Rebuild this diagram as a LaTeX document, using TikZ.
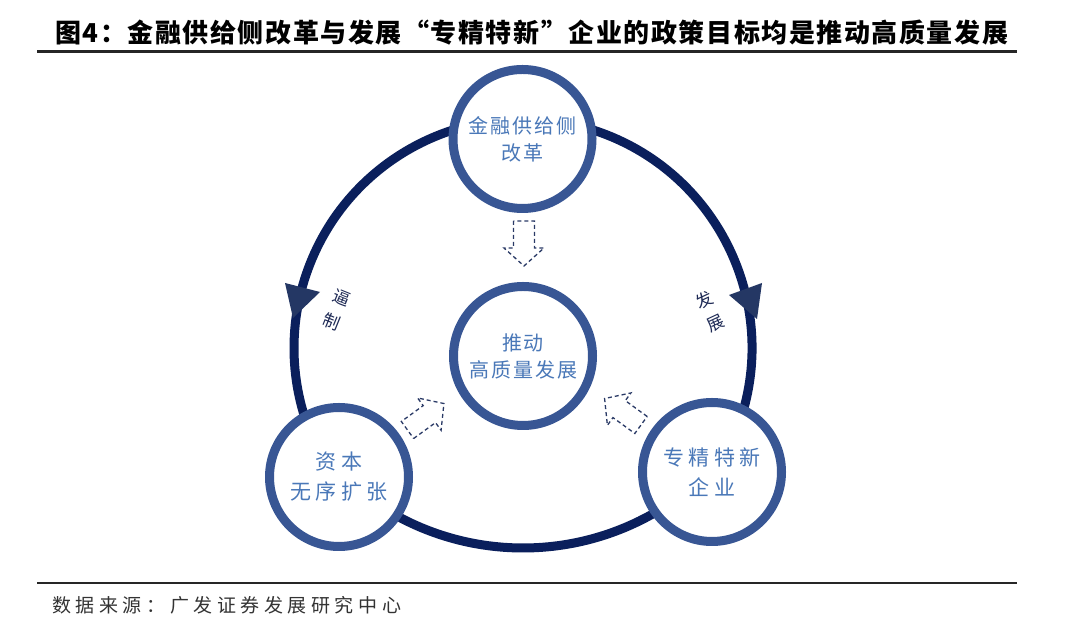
\documentclass[tikz,border=0pt]{standalone}
\usepackage{fontspec}
\setmainfont{Noto Sans CJK SC}
\definecolor{ringcol}{HTML}{0A1F5C}
\definecolor{circcol}{HTML}{385694}
\definecolor{txtcol}{HTML}{4A78B8}
\definecolor{headcol}{HTML}{243764}
\definecolor{lblcol}{HTML}{1E2A55}
\definecolor{dashcol}{HTML}{2A3A66}
\tikzset{
  bubble/.style={circle, draw=circcol, line width=9pt, fill=white, minimum size=139pt,
    inner sep=0pt, text=txtcol, align=center},
  smalltxt/.style={font=\fontsize{20}{27}\selectfont\addfontfeature{LetterSpace=10}},
  widetxt/.style={font=\fontsize{21}{30}\selectfont\addfontfeature{LetterSpace=20}},
  ringline/.style={draw=ringcol, line width=9pt},
  headfill/.style={fill=headcol, draw=none},
  lbl/.style={font=\fontsize{17}{26}\selectfont, text=lblcol, align=center, inner sep=0pt},
  dasharrow/.style={draw=dashcol, line width=1.3pt, dash pattern=on 4pt off 3pt, line join=miter},
  blockarr/.pic={\draw[dasharrow] (0,-10.5) -- (27,-10.5) -- (27,-20) -- (45,0) -- (27,20) -- (27,10.5) -- (0,10.5) -- cycle;}
}
\begin{document}
\begin{tikzpicture}[x=1pt,y=1pt]
\useasboundingbox (0,0) rectangle (1080,639);
\fill[white] (0,0) rectangle (1080,639);

% title and rules
\node[anchor=west, inner sep=0pt, font=\fontsize{26}{30}\selectfont\bfseries\addfontfeature{LetterSpace=6}] (title) at (55,606)
  {图4：金融供给侧改革与发展“专精特新”企业的政策目标均是推动高质量发展};
\draw[line width=3pt, black!85] (37,587) coordinate (r1a) -- (1017,587) coordinate (r1b);
\draw[line width=2.5pt, black!85] (37,56) coordinate (r2a) -- (1017,56) coordinate (r2b);
\node[anchor=west, inner sep=0pt, text=black!80, font=\fontsize{19}{22}\selectfont\addfontfeature{LetterSpace=24}] (src) at (52,34)
  {数据来源：广发证券发展研究中心};

% ring
\coordinate (oa) at (523,291);
\coordinate (ob) at (523,355);
\draw[ringline] (oa) ++(-20:229) arc[start angle=-20, end angle=205, radius=229];
\draw[ringline] (ob) ++(235:264) arc[start angle=235, end angle=305, radius=264];

% nodes
\node[bubble, smalltxt] (top) at (522.5,500) {金融供给侧\\改革};
\node[bubble, smalltxt] (mid) at (523,283) {推动\\高质量发展};
\node[bubble, widetxt] (bl) at (339,162) {资本\\无序扩张};
\node[bubble, widetxt] (br) at (712,167) {专精特新\\企业};

% arrowheads on the ring
\fill[headfill] (285,356) -- (320,347) -- (293,321) -- cycle;
\fill[headfill] (729,344) -- (762,356) -- (757,320) -- cycle;

% ring labels
\node[lbl, rotate=-22] (bz) at (337,329) {逼\\制};
\node[lbl, rotate=25] (fz) at (709.5,327.5) {发\\展};

% dashed block arrows
\pic[rotate=-90] at (524,418) {blockarr};
\pic[rotate=36] at (407.5,209) {blockarr};
\pic[rotate=144] at (641,214) {blockarr};
\end{tikzpicture}
\end{document}
